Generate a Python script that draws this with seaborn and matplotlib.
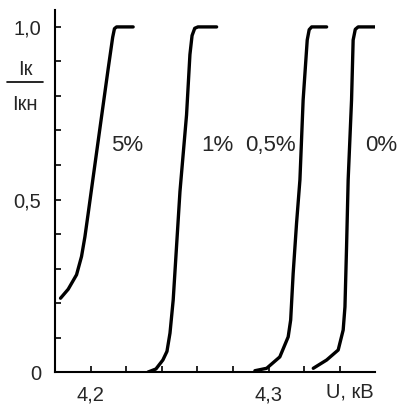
import numpy as np
import pandas as pd
import matplotlib
matplotlib.use('Agg')
import matplotlib.pyplot as plt
import seaborn as sns
from matplotlib.lines import Line2D

# кривые Iк/Iкн от напряжения U (кВ) при разной концентрации
u_5 = [4.1831, 4.1874, 4.1921, 4.1949, 4.1968, 4.1987, 4.2011, 4.2052, 4.2099, 4.2124, 4.2134, 4.2146, 4.2239]
i_5 = [0.214, 0.240, 0.282, 0.335, 0.392, 0.462, 0.552, 0.705, 0.880, 0.970, 0.995, 1.0, 1.0]

u_1 = [4.2322, 4.2367, 4.2406, 4.2429, 4.2446, 4.2464, 4.2502, 4.2539, 4.2558, 4.2570, 4.2585, 4.2603, 4.2708]
i_1 = [0.0, 0.009, 0.035, 0.060, 0.113, 0.209, 0.523, 0.745, 0.920, 0.975, 0.996, 1.0, 1.0]

u_05 = [4.2923, 4.2989, 4.3063, 4.3110, 4.3124, 4.3138, 4.3157, 4.3176, 4.3194, 4.3217, 4.3228, 4.3242, 4.3326]
i_05 = [0.004, 0.011, 0.044, 0.102, 0.151, 0.286, 0.431, 0.557, 0.788, 0.962, 0.992, 1.0, 1.0]

u_0 = [4.3251, 4.3326, 4.3391, 4.3419, 4.3429, 4.3438, 4.3447, 4.3466, 4.3475, 4.3487, 4.3503, 4.3597]
i_0 = [0.011, 0.035, 0.064, 0.122, 0.189, 0.363, 0.557, 0.788, 0.962, 0.993, 1.0, 1.0]

curve_names = ['5%', '1%', '0,5%', '0%']
label_x = [4.2204, 4.2715, 4.3013, 4.3631]
label_y = [0.655, 0.655, 0.655, 0.655]

x_ticks = [4.20, 4.22, 4.24, 4.26, 4.28, 4.30, 4.32, 4.34]
x_ticklabels = ['4,2', '', '', '', '', '4,3', '', '']
y_ticks = [0.0, 0.1, 0.2, 0.3, 0.4, 0.5, 0.6, 0.7, 0.8, 0.9, 1.0]
y_ticklabels = ['0', '', '', '', '', '0,5', '', '', '', '', '1,0']

frames = []
for name, u, i in zip(curve_names, [u_5, u_1, u_05, u_0], [i_5, i_1, i_05, i_0]):
    frames.append(pd.DataFrame({'U': u, 'I': i, 'curve': name}))
df = pd.concat(frames, ignore_index=True)

sns.set_style('white')
plt.rcParams['font.family'] = ['Liberation Sans', 'DejaVu Sans']

fig = plt.figure(figsize=(4.03, 4.08), dpi=100)
ax = fig.add_axes([0.1365, 0.088, 0.795, 0.8875])

sns.lineplot(data=df, x='U', y='I', units='curve', estimator=None, sort=False,
             color='black', linewidth=2.4, ax=ax)

ax.set_xlim(4.1800, 4.3600)
ax.set_ylim(0, 1.049)

ax.set_xticks(x_ticks)
ax.set_xticklabels(x_ticklabels)
ax.set_yticks(y_ticks)
ax.set_yticklabels(y_ticklabels)
ax.tick_params(bottom=True, left=True, direction='in', length=4, width=1.2,
               color='black', labelsize=14.5, pad=10)
ax.set_xlabel('')
ax.set_ylabel('')

for side in ['top', 'right']:
    ax.spines[side].set_visible(False)
for side in ['left', 'bottom']:
    ax.spines[side].set_color('black')
    ax.spines[side].set_linewidth(1.5)

for name, lx, ly in zip(curve_names, label_x, label_y):
    ax.text(lx, ly, name, ha='center', va='center', fontsize=16, clip_on=False)

ax.text(4.3458, -0.058, 'U, кВ', ha='center', va='center', fontsize=14.5, clip_on=False)

# подпись оси y дробью
fig.text(0.062, 0.83, 'Iк', ha='center', va='center', fontsize=14.5)
fig.text(0.062, 0.745, 'Iкн', ha='center', va='center', fontsize=14.5)
fig.add_artist(Line2D([0.017, 0.107], [0.799, 0.799], color='black', linewidth=1.2))

plt.savefig('out.png', dpi=100)
